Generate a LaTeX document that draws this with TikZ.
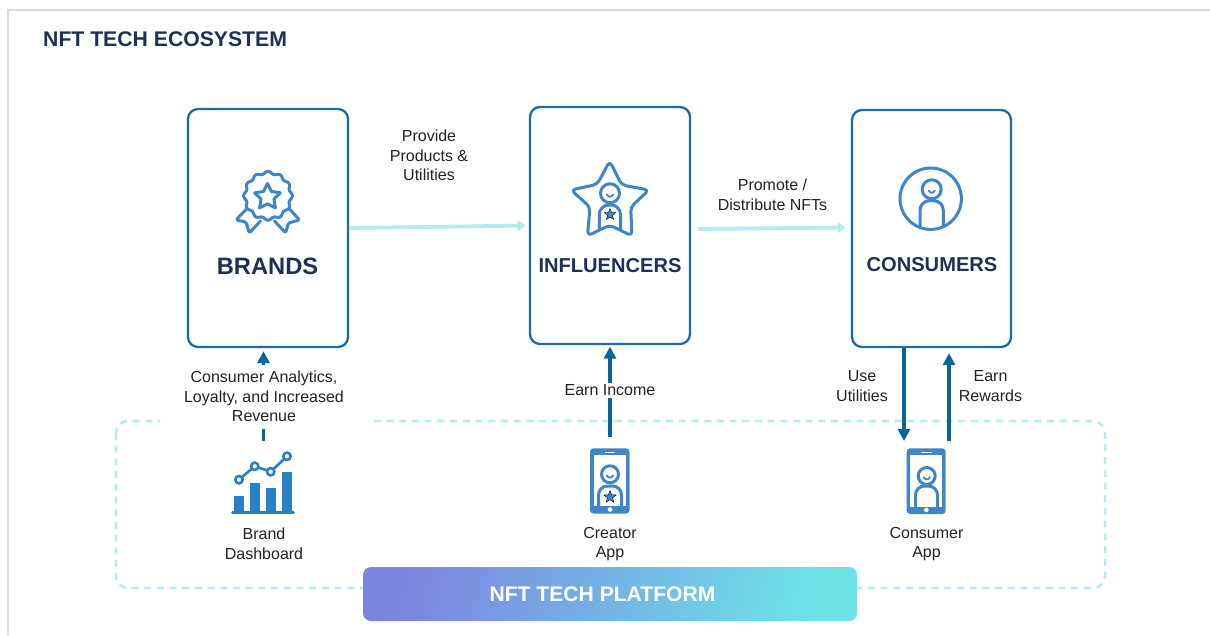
\documentclass[tikz,border=0pt]{standalone}
\usepackage{fontspec}
\setmainfont{Liberation Sans}
\usetikzlibrary{arrows.meta}
\definecolor{navy}{HTML}{1F3058}
\definecolor{boxblue}{HTML}{1A6EA3}
\definecolor{flowblue}{HTML}{08659A}
\definecolor{paleflow}{HTML}{B4EBF0}
\definecolor{dashcyan}{HTML}{B4ECF2}
\definecolor{iconblue}{HTML}{3F86C8}
\definecolor{chartblue}{HTML}{2A80C8}
\definecolor{framegrey}{HTML}{DADADA}
\definecolor{labelink}{HTML}{222222}
\definecolor{barleft}{HTML}{7C84E0}
\definecolor{barright}{HTML}{6DE3E8}
\newcommand{\fivestar}[5][]{\draw[#1] plot[domain=0:9,samples=10] ({#2+(mod(round(\x),2)==0?#4:#5)*sin(36*\x)},{#3-(mod(round(\x),2)==0?#4:#5)*cos(36*\x)}) -- cycle;}
\newcommand{\smileface}[3]{%
  \draw[iconline] (#1,#2) circle (#3);
  \draw[iconline,line width=1.8pt] (#1-3.2,#2+1.2) .. controls (#1-1.2,#2+4.2) and (#1+1.2,#2+4.2) .. (#1+3.2,#2+1.2);}
\newcommand{\phonebody}[5]{%
  \fill[iconblue,rounded corners=3.5pt] (#1,#2) rectangle (#3,#4);
  \fill[white] (#1+3.5,#2+7) rectangle (#3-3.5,#4-7.5);
  \fill[white] (#5-5.3,#2+3.4) rectangle (#5+5.3,#2+4.8);
  \fill[white] (#5,#4-4) circle (2.3);}
\tikzset{
  x=1pt,y=-1pt,
  bigbox/.style={draw=boxblue,line width=2.3pt,rounded corners=10pt,minimum width=160pt,fill=white,inner sep=0pt},
  title/.style={text=navy,font=\bfseries\fontsize{21.2}{24}\selectfont,inner sep=0pt},
  boxname/.style={text=navy,font=\bfseries\fontsize{20.1}{24}\selectfont,inner sep=0pt},
  lab/.style={text=labelink,font=\fontsize{16}{19.6}\selectfont,align=center,inner sep=0pt},
  paleline/.style={draw=paleflow,line width=3.8pt,-{Triangle[length=8pt,width=10pt]}},
  flow/.style={draw=flowblue,line width=3.4pt,-{Triangle[length=12pt,width=12pt]}},
  iconline/.style={draw=iconblue,line width=3pt,line join=round,line cap=round},
  appspot/.style={inner sep=0pt,outer sep=0pt},
}
\begin{document}
\begin{tikzpicture}
\useasboundingbox (0,0) rectangle (1210,635);
\fill[white] (0,0) rectangle (1210,635);
% frame
\draw[framegrey,line width=2pt] (8,635) -- (8,9.5) -- (1210,9.5);
\node[title,anchor=west] (heading) at (43,39.5) {NFT TECH ECOSYSTEM};
% platform region
\draw[dashcyan,line width=2.5pt,dash pattern=on 7pt off 5.7pt,rounded corners=12pt] (116,421) rectangle (1105,588);
% actor boxes
\node[bigbox,minimum height=238pt] (brands) at (268,228) {};
\node[bigbox,minimum height=237pt] (influencers) at (610,225.5) {};
\node[bigbox,minimum width=159pt,minimum height=237pt] (consumers) at (931.5,228.5) {};
\node[title,font=\bfseries\fontsize{23.7}{26}\selectfont] (brandsname) at (267.5,266) {BRANDS};
\node[boxname] (influencersname) at (610,266) {INFLUENCERS};
\node[boxname] (consumersname) at (932,264.5) {CONSUMERS};
% medal icon
\draw[iconline] plot[domain=0:360,samples=121,smooth] ({268+(23.2+1.2*cos(12*\x))*cos(\x)},{195.8+(23.2+1.2*cos(12*\x))*sin(\x)}) -- cycle;
\fivestar[iconline]{267.5}{197}{13.5}{6.8}
\draw[iconline,rounded corners=1.5pt] (246,209.5) -- (236,220) -- (246,222) -- (249.3,233) -- (260.5,221);
\draw[iconline,rounded corners=1.5pt] (290,209.5) -- (299.5,220) -- (288.3,223) -- (285.7,233) -- (274.5,221);
% star person icon
\draw[iconline,rounded corners=4.5pt] (609.7,161) -- (621.7,185) -- (649,190) -- (630.7,207) -- (632,236) -- (609.7,225) -- (587.5,236) -- (590,207) -- (571,190) -- (597.3,184.3) -- cycle;
\smileface{610}{193.3}{9.5}
\draw[iconline,rounded corners=9.5pt] (599.3,229) -- (599.3,205) -- (620.5,205) -- (620.5,229);
\fivestar[fill=iconblue]{610}{214.5}{6}{2.6}
% consumer icon
\draw[iconline] (930.7,198.7) circle (30.7);
\smileface{931.7}{189.3}{9.5}
\draw[iconline,rounded corners=9.5pt] (920,226) -- (920,200.7) -- (943.3,200.7) -- (943.3,226);
% chart icon
\fill[chartblue] (234.3,496) rectangle (244.3,512);
\fill[chartblue] (250,482.7) rectangle (260.3,512);
\fill[chartblue] (266,488) rectangle (276,512);
\fill[chartblue] (281.7,472) rectangle (291.7,512);
\draw[chartblue,line width=2.6pt,line cap=round] (232.5,512.6) -- (293.5,512.6);
\draw[chartblue,line width=2.6pt] (239,479.7) -- (254.7,466.3) -- (270.7,471.7) -- (287,456.3);
\draw[chartblue,line width=2.6pt,fill=white] (239,479.7) circle (3.7);
\draw[chartblue,line width=2.6pt,fill=white] (254.7,466.3) circle (3.7);
\draw[chartblue,line width=2.6pt,fill=white] (270.7,471.7) circle (3.7);
\draw[chartblue,line width=2.6pt,fill=white] (287,456.3) circle (3.7);
% creator phone
\phonebody{590}{448.3}{629.5}{513.5}{610}
\smileface{610}{474.3}{8.5}
\begin{scope}
\clip (593.5,455) rectangle (626,506);
\draw[iconline,rounded corners=9pt] (598.5,512) -- (598.5,486) -- (621.5,486) -- (621.5,512);
\end{scope}
\fivestar[fill=iconblue]{610}{497}{6.5}{2.8}
% consumer phone
\phonebody{906.7}{448.3}{945.7}{514}{926.3}
\smileface{926.7}{476}{8.5}
\begin{scope}
\clip (910,455) rectangle (942.5,506.5);
\draw[iconline,rounded corners=9pt] (915.5,512) -- (915.5,486) -- (937.5,486) -- (937.5,512);
\end{scope}
% app spots
\node[appspot,minimum width=62pt,minimum height=60pt,outer ysep=12pt] (brandapp) at (263.5,483) {};
\node[appspot,minimum width=39pt,minimum height=65pt,outer ysep=12pt] (creatorapp) at (610,481) {};
\node[appspot,minimum width=39pt,minimum height=66pt,outer ysep=7pt] (consumerapp) at (926,481) {};
% pale arrows
\draw[paleline,shorten >=3pt] (brands.east) -- (influencers.west);
\coordinate (promotefrom) at (698,229);
\coordinate (promoteto) at (846,227.5);
\draw[paleline] (promotefrom) -- (promoteto);
% flows
\draw[flow,shorten >=3pt] (brandapp.north) -- (brandapp.north |- brands.south);
\draw[flow,shorten >=1.5pt] (creatorapp.north) -- (creatorapp.north |- influencers.south);
\draw[flow] ([xshift=-27.5pt]consumers.south) -- ([xshift=-22pt]consumerapp.north);
\draw[flow,shorten >=5pt] ([xshift=23pt]consumerapp.north) -- ([xshift=17.5pt]consumers.south);
% labels
\node[lab,fill=white,minimum width=208pt,minimum height=64pt] (analytics) at (264,396.5) {Consumer Analytics,\\Loyalty, and Increased\\Revenue};
\node[lab] (provide) at (429,155.5) {Provide\\Products \&\\Utilities};
\node[lab] (promote) at (772.5,194.5) {Promote /\\Distribute NFTs};
\node[lab,fill=white,inner sep=2pt] (earnincome) at (610,390.5) {Earn Income};
\node[lab] (useutil) at (862,386) {Use\\Utilities};
\node[lab] (earnrew) at (990.5,386) {Earn\\Rewards};
\node[lab] (branddash) at (264,544) {Brand\\Dashboard};
\node[lab] (creatorlab) at (610,544) {Creator\\App};
\node[lab] (consumerlab) at (926.5,544) {Consumer\\App};
% platform bar
\node[minimum width=494pt,minimum height=54pt,inner sep=0pt,rounded corners=8pt,left color=barleft,right color=barright,shading angle=75] (platform) at (610,594) {};
\node[title,text=white,font=\bfseries\fontsize{21.1}{24}\selectfont] (platformname) at (602.5,594) {NFT TECH PLATFORM};
\end{tikzpicture}
\end{document}
